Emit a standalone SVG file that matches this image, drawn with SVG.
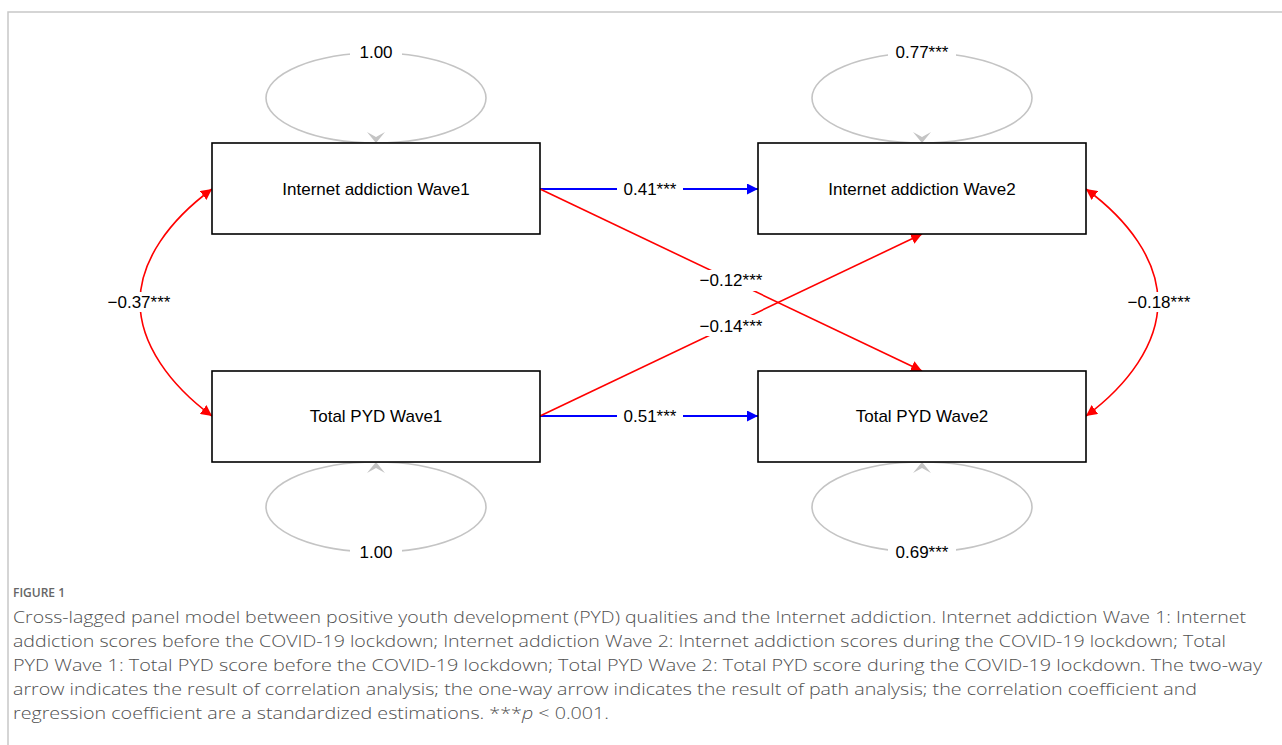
<svg xmlns="http://www.w3.org/2000/svg" width="1282" height="745" viewBox="0 0 1282 745">
<defs>
<style>
.box{fill:#fff;stroke:#000;stroke-width:1.6}
.nt{font-family:"Liberation Sans",Arial,sans-serif;font-size:17px;fill:#000;text-anchor:middle}
.lb{font-family:"Liberation Sans",Arial,sans-serif;font-size:17px;fill:#000;text-anchor:middle}
.red{fill:none;stroke:#ff0000;stroke-width:1.6}
.blue{fill:none;stroke:#0000ff;stroke-width:1.8}
.loop{fill:none;stroke:#c4c4c4;stroke-width:1.6}
.gap{fill:#fff}
.cap{font-family:"Open Sans",Lato,"Liberation Sans",sans-serif;font-size:17px;fill:#505050;font-weight:300}
</style>
<marker id="ar" viewBox="0 0 10 10" refX="10" refY="5" markerWidth="11" markerHeight="11" markerUnits="userSpaceOnUse" orient="auto-start-reverse"><path d="M0,0 L10,5 L0,10 z" fill="#ff0000"/></marker>
<marker id="ab" viewBox="0 0 10 10" refX="10" refY="5" markerWidth="11" markerHeight="11" markerUnits="userSpaceOnUse" orient="auto"><path d="M0,0 L10,5 L0,10 z" fill="#0000ff"/></marker>
</defs>
<rect x="0" y="0" width="1282" height="745" fill="#fff"/>
<path d="M8,745 L8,12 L1282,12" fill="none" stroke="#c8c8c8" stroke-width="1.5"/>

<g id="connectors">
  <!-- self loops -->
  <ellipse class="loop" cx="376" cy="98" rx="110" ry="45"/>
  <ellipse class="loop" cx="922" cy="98" rx="110" ry="45"/>
  <ellipse class="loop" cx="376" cy="507" rx="110" ry="45"/>
  <ellipse class="loop" cx="922" cy="507" rx="110" ry="45"/>
  <path d="M376,143 L367,132 L376,137 L385,132 z" fill="#c4c4c4"/>
  <path d="M922,143 L913,132 L922,137 L931,132 z" fill="#c4c4c4"/>
  <path d="M376,462 L367,473 L376,468 L385,473 z" fill="#c4c4c4"/>
  <path d="M922,462 L913,473 L922,468 L931,473 z" fill="#c4c4c4"/>
  <rect class="gap" x="350" y="42" width="52" height="20"/>
  <rect class="gap" x="888" y="42" width="68" height="20"/>
  <rect class="gap" x="350" y="542" width="52" height="20"/>
  <rect class="gap" x="888" y="542" width="68" height="20"/>
  <text class="lb" x="376" y="58">1.00</text>
  <text class="lb" x="922" y="58">0.77***</text>
  <text class="lb" x="376" y="558">1.00</text>
  <text class="lb" x="922" y="558">0.69***</text>

  <!-- correlations -->
  <path class="red" d="M212,189 C170,220 140,260 140,302 C140,344 170,385 212,416" marker-start="url(#ar)" marker-end="url(#ar)"/>
  <path class="red" d="M1086,189 C1128,220 1158,260 1158,302 C1158,344 1128,385 1086,416" marker-start="url(#ar)" marker-end="url(#ar)"/>
  <rect class="gap" x="104" y="292" width="70" height="20"/>
  <rect class="gap" x="1124" y="292" width="70" height="20"/>
  <text class="lb" x="139" y="308">−0.37***</text>
  <text class="lb" x="1159" y="308">−0.18***</text>

  <!-- paths -->
  <line class="blue" x1="540" y1="189" x2="758" y2="189" marker-end="url(#ab)"/>
  <line class="blue" x1="540" y1="416" x2="758" y2="416" marker-end="url(#ab)"/>
  <line class="red" x1="540" y1="189" x2="922" y2="371" marker-end="url(#ar)"/>
  <line class="red" x1="540" y1="416" x2="922" y2="234" marker-end="url(#ar)"/>
  <rect class="gap" x="617" y="179" width="66" height="20"/>
  <rect class="gap" x="617" y="406" width="66" height="20"/>
  <rect class="gap" x="699" y="270" width="64" height="21"/>
  <rect class="gap" x="699" y="315" width="64" height="21"/>
  <text class="lb" x="650" y="195">0.41***</text>
  <text class="lb" x="650" y="422">0.51***</text>
  <text class="lb" x="731" y="286">−0.12***</text>
  <text class="lb" x="731" y="332">−0.14***</text>
</g>

<g id="node-ia1"><rect class="box" x="212" y="143" width="328" height="91"/><text class="nt" x="376" y="195">Internet addiction Wave1</text></g>
<g id="node-ia2"><rect class="box" x="758" y="143" width="328" height="91"/><text class="nt" x="922" y="195">Internet addiction Wave2</text></g>
<g id="node-pyd1"><rect class="box" x="212" y="371" width="328" height="91"/><text class="nt" x="376" y="422">Total PYD Wave1</text></g>
<g id="node-pyd2"><rect class="box" x="758" y="371" width="328" height="91"/><text class="nt" x="922" y="422">Total PYD Wave2</text></g>

<g id="caption">
  <text x="13" y="597" font-family="'Open Sans',Lato,'Liberation Sans',sans-serif" font-size="12" font-weight="600" fill="#666">FIGURE 1</text>
  <text class="cap" x="13" y="623" textLength="1233" lengthAdjust="spacingAndGlyphs">Cross-lagged panel model between positive youth development (PYD) qualities and the Internet addiction. Internet addiction Wave 1: Internet</text>
  <text class="cap" x="13" y="647" textLength="1213" lengthAdjust="spacingAndGlyphs">addiction scores before the COVID-19 lockdown; Internet addiction Wave 2: Internet addiction scores during the COVID-19 lockdown; Total</text>
  <text class="cap" x="13" y="671" textLength="1249" lengthAdjust="spacingAndGlyphs">PYD Wave 1: Total PYD score before the COVID-19 lockdown; Total PYD Wave 2: Total PYD score during the COVID-19 lockdown. The two-way</text>
  <text class="cap" x="13" y="695" textLength="1184" lengthAdjust="spacingAndGlyphs">arrow indicates the result of correlation analysis; the one-way arrow indicates the result of path analysis; the correlation coefficient and</text>
  <text class="cap" x="13" y="719" textLength="596" lengthAdjust="spacingAndGlyphs">regression coefficient are a standardized estimations. ***<tspan font-style="italic">p</tspan> &lt; 0.001.</text>
</g>
</svg>
